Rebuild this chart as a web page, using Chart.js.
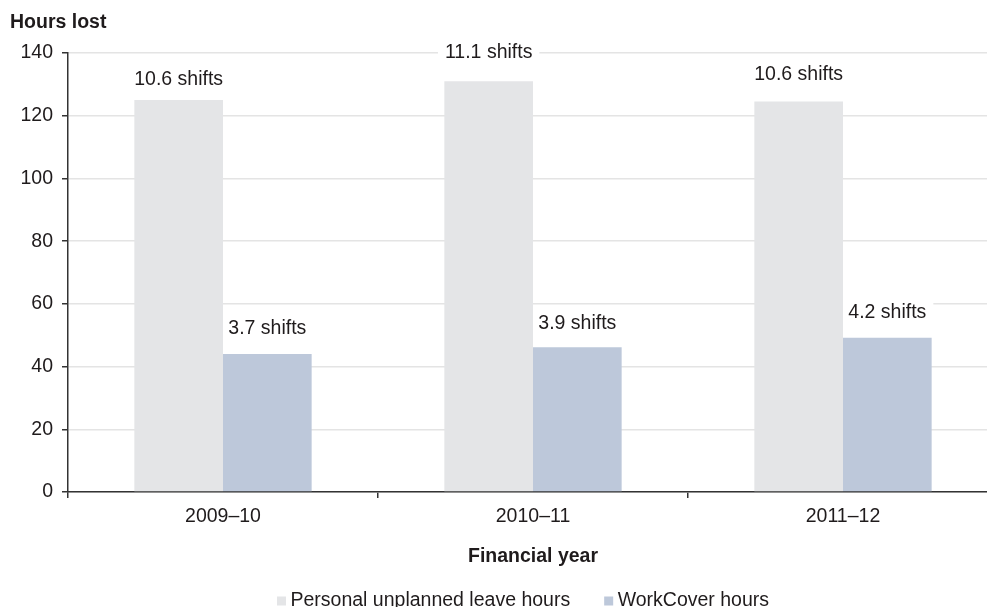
<!DOCTYPE html>
<html>
<head>
<meta charset="utf-8">
<script src="https://cdn.jsdelivr.net/npm/chart.js@4.4.1/dist/chart.umd.min.js"></script>
<style>
  html, body { margin: 0; padding: 0; background: #fff; }
  #wrap { width: 987px; height: 607px; overflow: hidden; position: relative; }
  canvas { display: block; }
</style>
</head>
<body>
<div id="wrap"><canvas id="chart" width="1000" height="607" style="width:1000px;height:607px"></canvas></div>
<script>
// Financial years on the category axis
const years = ['2009–10', '2010–11', '2011–12'];

// Hours lost per employee
const personalLeaveHours = [125, 131, 124.5];
const workCoverHours = [44, 46.2, 49.2];

// The same losses expressed as shifts (printed above each bar)
const personalLeaveShifts = [10.6, 11.1, 10.6];
const workCoverShifts = [3.7, 3.9, 4.2];

// Value axis
const yMin = 0;
const yMax = 140;
const yStep = 20;

const FONT = "'Liberation Sans', Arial, Helvetica, sans-serif";
const SIZE = 19.5;
const INK = '#1f1b1c';
const AXIS = '#333333';
const GREY_BAR = '#e4e5e7';
const BLUE_BAR = '#bdc8da';

const shiftSeries = [personalLeaveShifts, workCoverShifts];
// vertical distance from bar top to the centre of its label, per series / year
const labelLift = [[20, 29, 27], [25.5, 24, 24.7]];

function shiftLabelItems(chart) {
  const ctx = chart.ctx;
  ctx.save();
  ctx.font = `${SIZE}px ${FONT}`;
  const items = [];
  shiftSeries.forEach((series, d) => {
    const meta = chart.getDatasetMeta(d);
    meta.data.forEach((bar, i) => {
      const text = series[i].toFixed(1) + ' shifts';
      items.push({ text, x: bar.x, y: bar.y - labelLift[d][i], w: ctx.measureText(text).width });
    });
  });
  ctx.restore();
  return items;
}

// "n shifts" labels: white backing drawn under the bars, text drawn on top
const shiftLabels = {
  id: 'shiftLabels',
  beforeDatasetsDraw(chart) {
    const ctx = chart.ctx;
    ctx.save();
    ctx.fillStyle = '#ffffff';
    shiftLabelItems(chart).forEach(it => {
      ctx.fillRect(it.x - it.w / 2 - 7, it.y - 12, it.w + 14, 24);
    });
    ctx.restore();
  },
  afterDatasetsDraw(chart) {
    const ctx = chart.ctx;
    ctx.save();
    ctx.font = `${SIZE}px ${FONT}`;
    ctx.fillStyle = INK;
    ctx.textAlign = 'center';
    ctx.textBaseline = 'middle';
    shiftLabelItems(chart).forEach(it => ctx.fillText(it.text, it.x, it.y));
    ctx.restore();
  }
};

// Axis heading above the value axis and a single-row legend at the foot
const headings = {
  id: 'headings',
  afterDraw(chart) {
    const ctx = chart.ctx;
    ctx.save();
    ctx.fillStyle = INK;
    ctx.font = `bold ${SIZE}px ${FONT}`;
    ctx.textAlign = 'left';
    ctx.textBaseline = 'middle';
    ctx.fillText('Hours lost', 10, 22.5);

    ctx.font = `${SIZE}px ${FONT}`;
    const box = 9, gap = 4.5, spacing = 34;
    const items = chart.data.datasets.map(ds => ({
      label: ds.label, color: ds.backgroundColor, w: ctx.measureText(ds.label).width
    }));
    const total = items.reduce((s, it) => s + box + gap + it.w, 0) + spacing * (items.length - 1);
    const centre = (chart.chartArea.left + chart.chartArea.right) / 2 - 10;
    let x = centre - total / 2;
    const y = 600.5;
    items.forEach(it => {
      ctx.fillStyle = it.color;
      ctx.fillRect(x, y - 4, box, box);
      ctx.fillStyle = INK;
      ctx.fillText(it.label, x + box + gap, y);
      x += box + gap + it.w + spacing;
    });
    ctx.restore();
  }
};

new Chart(document.getElementById('chart'), {
  type: 'bar',
  data: {
    labels: years,
    datasets: [
      {
        label: 'Personal unplanned leave hours',
        data: personalLeaveHours,
        backgroundColor: GREY_BAR,
        borderWidth: 0,
        categoryPercentage: 0.572,
        barPercentage: 1.0
      },
      {
        label: 'WorkCover hours',
        data: workCoverHours,
        backgroundColor: BLUE_BAR,
        borderWidth: 0,
        categoryPercentage: 0.572,
        barPercentage: 1.0
      }
    ]
  },
  options: {
    responsive: false,
    animation: false,
    devicePixelRatio: 1,
    layout: { padding: { top: 53, right: 2, bottom: 39, left: 0 } },
    plugins: {
      legend: { display: false },
      tooltip: { enabled: false },
      title: { display: false }
    },
    scales: {
      x: {
        z: 1,
        grid: {
          offset: true,
          drawOnChartArea: false,
          drawTicks: true,
          tickLength: 6,
          tickColor: AXIS,
          tickWidth: 1.5,
          color: AXIS,
          lineWidth: 1.5
        },
        border: { display: true, color: AXIS, width: 1.5 },
        ticks: { color: INK, font: { family: FONT, size: SIZE }, padding: 7 },
        title: {
          display: true,
          text: 'Financial year',
          color: INK,
          font: { family: FONT, size: SIZE, weight: 'bold' },
          padding: { top: 16, bottom: 0 }
        },
        afterFit(scale) { scale.height = 76; }
      },
      y: {
        min: yMin,
        max: yMax,
        ticks: {
          stepSize: yStep,
          color: INK,
          font: { family: FONT, size: SIZE },
          padding: 9
        },
        grid: {
          color: '#e4e4e4',
          lineWidth: 1.5,
          drawTicks: true,
          tickLength: 6,
          tickColor: AXIS,
          tickWidth: 1.5
        },
        border: { display: true, color: AXIS, width: 1.5 },
        afterFit(scale) { scale.width = 68; }
      }
    }
  },
  plugins: [shiftLabels, headings]
});
</script>
</body>
</html>
